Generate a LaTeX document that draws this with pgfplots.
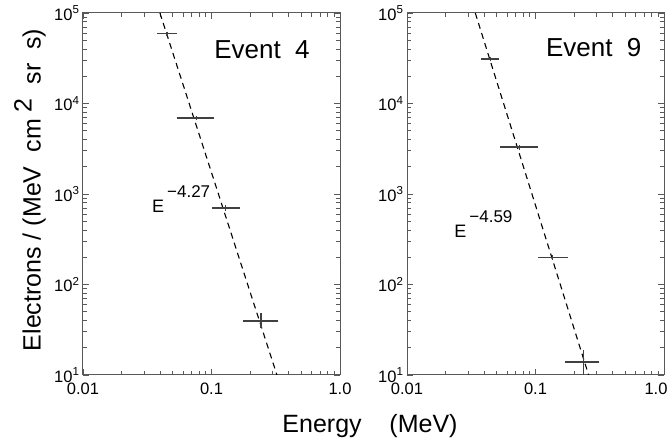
\documentclass[border=0pt]{standalone}
\usepackage{fontspec}
\setmainfont{Liberation Sans}
\usepackage{pgfplots}
\pgfplotsset{compat=1.18}
\pgfplotsset{every axis/.append style={
    scale only axis, width=257pt, height=362pt,
    xmin=0.01, xmax=1, ymin=10, ymax=1e5,
    xtick={0.01,0.1,1},
    ytick={10,100,1000,10000,100000},
    yticklabels={10\textsuperscript{1},10\textsuperscript{2},10\textsuperscript{3},10\textsuperscript{4},10\textsuperscript{5}},
    minor xtick={0.02,0.03,0.04,0.05,0.06,0.07,0.08,0.09,0.2,0.3,0.4,0.5,0.6,0.7,0.8,0.9},
    minor ytick={20,30,40,50,60,70,80,90,200,300,400,500,600,700,800,900,2000,3000,4000,5000,6000,7000,8000,9000,20000,30000,40000,50000,60000,70000,80000,90000},
    tick align=inside, major tick length=6pt, minor tick length=4pt,
    axis line style={line width=1pt, black!65},
    tick style={line width=0.9pt, black!65},
    ticklabel style={font=\fontsize{16.5}{16.5}\selectfont},
    xticklabel style={yshift=-4pt},
}}
\begin{document}
\begin{tikzpicture}
\useasboundingbox (0pt,0pt) rectangle (667pt,441pt);
\begin{axis}[xmode=log, ymode=log, at={(83pt,66pt)}, anchor=south west, xticklabels={0.01,0.1,1.0}]
\addplot[black, line width=1.1pt, dash pattern=on 6pt off 4.5pt, mark=none] coordinates {(0.0397,100000) (0.323,10)};
\addplot[draw=none, mark=none,
    error bars/x dir=both, error bars/x explicit, error bars/y dir=both, error bars/y explicit,
    error bars/error mark=none, error bars/error bar style={line width=1.2pt, black!75}] coordinates {
 (0.045,59000) += (0.009,3000) -= (0.0073,3000)
 (0.076,6900) += (0.029,400) -= (0.022,400)
 (0.129,700) += (0.037,50) -= (0.028,50)
 (0.243,39.5) += (0.087,8.5) -= (0.067,6.5)
};
\node[font=\fontsize{26}{26}\selectfont] at (axis cs:0.247,39000) {Event\ \ 4};
\node[anchor=base west, inner sep=0pt, font=\fontsize{18}{18}\selectfont] at (axis cs:0.0344,632) {E\,\raisebox{15pt}{\fontsize{17}{17}\selectfont −4.27}};
\end{axis}
\begin{axis}[xmode=log, ymode=log, at={(407pt,66pt)}, anchor=south west, xticklabels={0.01,0.1,\hspace*{-16pt}1.0}]
\addplot[black, line width=1.1pt, dash pattern=on 6pt off 4.5pt, mark=none] coordinates {(0.034,100000) (0.259,10)};
\addplot[draw=none, mark=none,
    error bars/x dir=both, error bars/x explicit, error bars/y dir=both, error bars/y explicit,
    error bars/error mark=none, error bars/error bar style={line width=1.2pt, black!75}] coordinates {
 (0.0445,31000) += (0.0079,1500) -= (0.0067,1500)
 (0.075,3300) += (0.029,200) -= (0.022,200)
 (0.136,200) += (0.042,12) -= (0.032,12)
 (0.237,13.9) += (0.074,5) -= (0.066,5)
};
\node[font=\fontsize{26}{26}\selectfont] at (axis cs:0.284,42000) {Event\ \ 9};
\node[anchor=base west, inner sep=0pt, font=\fontsize{18}{18}\selectfont] at (axis cs:0.0233,327) {E\,\raisebox{15pt}{\fontsize{17}{17}\selectfont −4.59}};
\end{axis}
\node[anchor=base, font=\fontsize{25}{25}\selectfont] at (370pt,8pt) {Energy\ \ \ \ (MeV)};
\node[rotate=90, font=\fontsize{25}{25}\selectfont] at (30pt,251pt) {Electrons / (MeV\ \ cm\ \raisebox{9pt}{2}\ \ sr\ \ s)};
\end{tikzpicture}
\end{document}
